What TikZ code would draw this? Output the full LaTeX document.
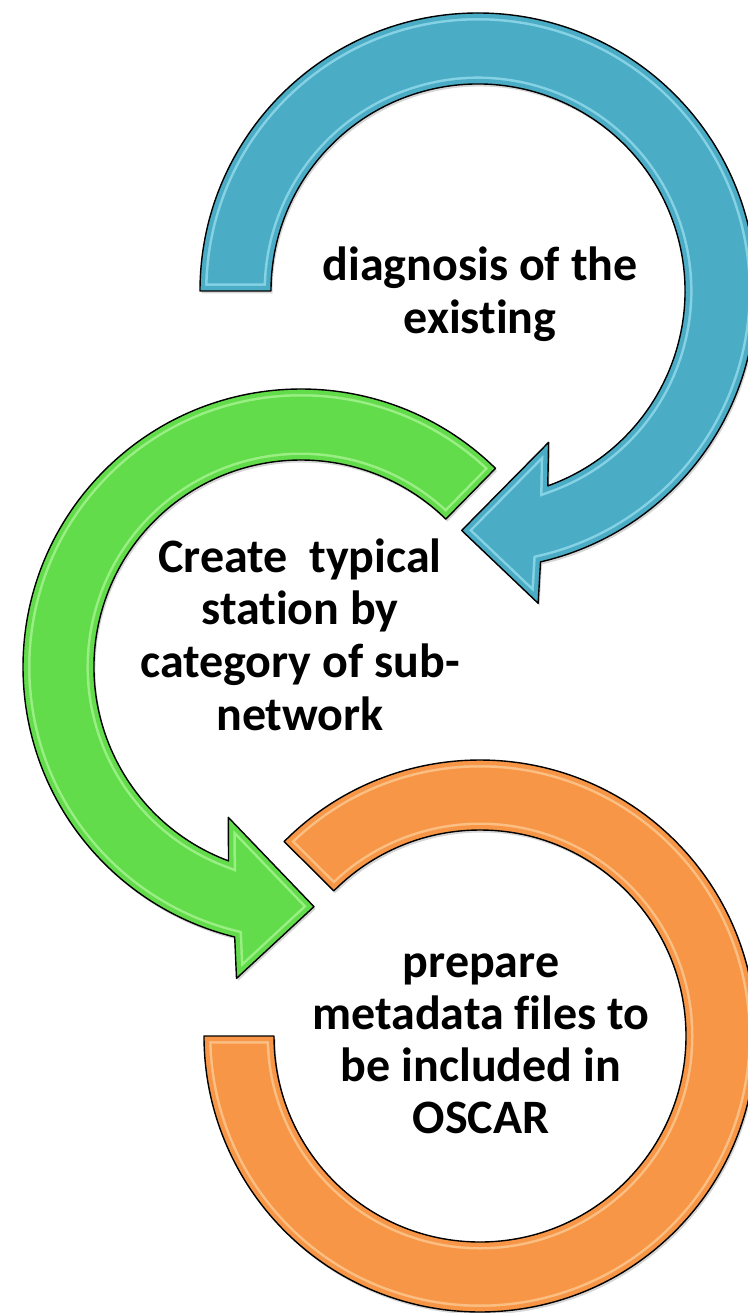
\documentclass[tikz,border=0pt]{standalone}
\usepackage{fontspec}
\setmainfont{Carlito}[Ligatures={NoCommon}]
\definecolor{bluefill}{HTML}{4BACC6}
\definecolor{bluelight}{HTML}{B8F2FF}
\definecolor{greenfill}{HTML}{62DC4A}
\definecolor{greenlight}{HTML}{C9FFB5}
\definecolor{orangefill}{HTML}{F79646}
\definecolor{orangelight}{HTML}{FFE2B8}
\begin{document}
\begin{tikzpicture}[x=1pt,y=-1pt,
  outline/.style={draw=black, line width=1.4pt, line join=round},
  shade/.style={fill=black, opacity=0.16},
  lbl/.style={font=\bfseries\fontsize{48}{52}\selectfont, anchor=base, inner sep=0pt}]
\useasboundingbox (0,0) rectangle (747,1313);
\fill[white] (0,0) rectangle (747,1313);

% one glossy band: soft shadow, fill, inner rim highlight, black outline
\newcommand\bandshape[3]{%
  \begin{scope}[shift={(1.5,2.5)}]\fill[shade] #1;\end{scope}
  \fill[#2] #1;
  \begin{scope}
    \clip #1;
    \draw[line width=15pt, #3, opacity=0.55] #1;
    \draw[line width=10pt, #2] #1;
  \end{scope}
  \draw[outline] #1;}

% blue arc with arrowhead, turning clockwise over the top
\begin{scope}[shift={(478,291)}]
  \bandshape{(180:278) arc[start angle=180, end angle=437, radius=278]
    -- (79.1:318) -- (93.9:240) -- (65:167) -- (70.3:207)
    arc[start angle=430.3, end angle=180, radius=207] -- cycle}{bluefill}{bluelight}
\end{scope}

% green arc with arrowhead, turning anticlockwise over the left side
\begin{scope}[shift={(301,667)}]
  \bandshape{(-45.6:278) arc[start angle=-45.6, end angle=-256.2, radius=278]
    -- (-258.3:318) -- (-273.1:240) -- (-244.2:167) -- (-249.5:207)
    arc[start angle=-249.5, end angle=-45.6, radius=207] -- cycle}{greenfill}{greenlight}
\end{scope}

% orange open ring without arrowhead
\begin{scope}[shift={(480,1036)}]
  \bandshape{(224.8:276) arc[start angle=224.8, end angle=540, radius=276]
    -- (540:206) arc[start angle=540, end angle=224.8, radius=206] -- cycle}{orangefill}{orangelight}
\end{scope}

% step labels
\node[lbl] (s1a) at (480,281) {diagnosis of the};
\node[lbl] (s1b) at (480,333) {existing};

\node[lbl] (s2a) at (300,572) {Create\ \ typical};
\node[lbl] (s2b) at (300,624) {station by};
\node[lbl] (s2c) at (300,677) {category of sub-};
\node[lbl] (s2d) at (300,730) {network};

\node[lbl] (s3a) at (481,977) {prepare};
\node[lbl] (s3b) at (481,1029) {metadata files to};
\node[lbl] (s3c) at (481,1081) {be included in};
\node[lbl] (s3d) at (481,1133) {OSCAR};
\end{tikzpicture}
\end{document}
